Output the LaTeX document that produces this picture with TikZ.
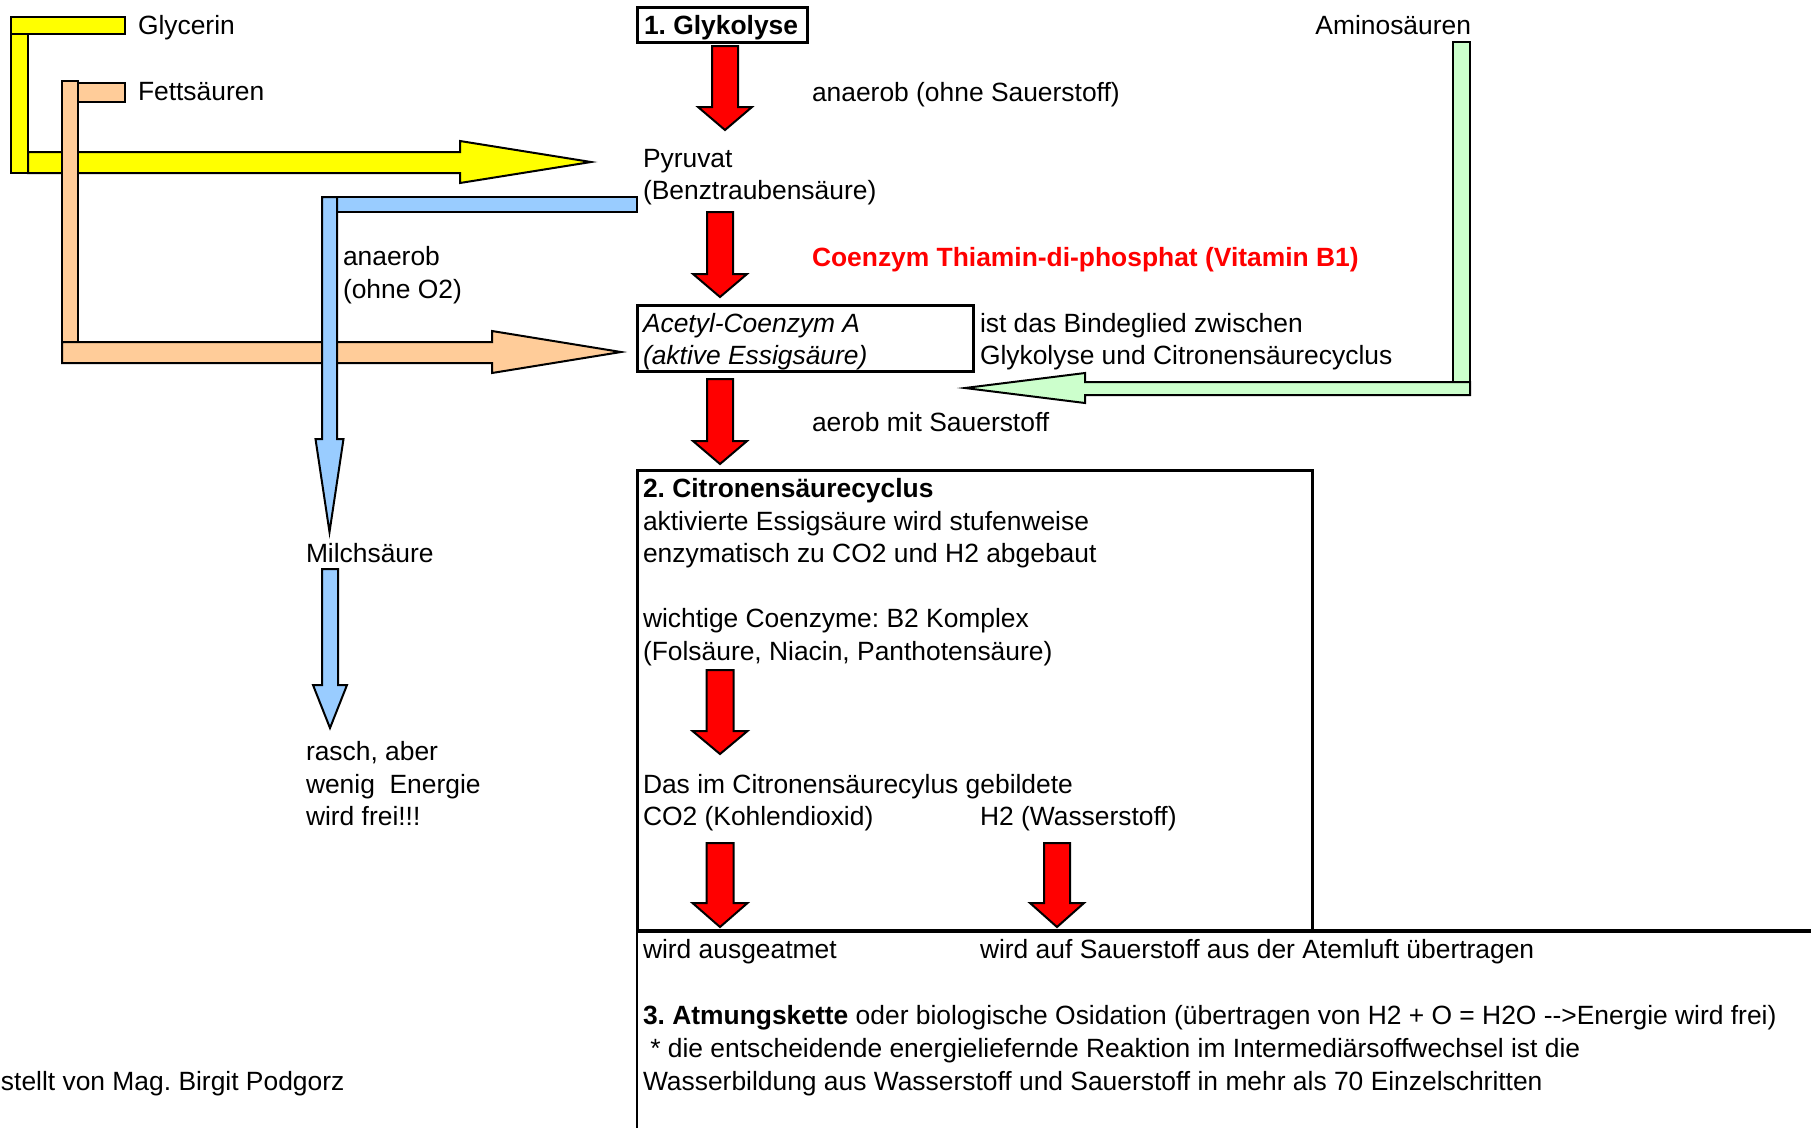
\documentclass[tikz,border=0pt]{standalone}
\usepackage{fontspec}
\setmainfont{Liberation Sans}
\usepackage{tikz}

\definecolor{glycyellow}{RGB}{255,255,0}
\definecolor{fattorange}{RGB}{255,204,153}
\definecolor{lacticblue}{RGB}{153,204,255}
\definecolor{aminogreen}{RGB}{204,255,204}
\definecolor{stepred}{RGB}{255,0,0}

\tikzset{
	% block arrow pointing down: length / half shaft / half head / head length / colour
	pics/downblock/.style args={#1/#2/#3/#4/#5}{code={
		\filldraw [fill=#5] (-#2,0) -- (#2,0) -- (#2,#1-#4) -- (#3,#1-#4) -- (0,#1)
			-- (-#3,#1-#4) -- (-#2,#1-#4) -- cycle;
	}},
}

\begin{document}
\begin{tikzpicture} [x=1pt, y=-1pt, line width=2pt, line join=miter,
	font=\fontsize{26.4}{32.5}\selectfont\frenchspacing,
	lbl/.style={anchor=base west, inner sep=0pt},
	frame/.style={draw, line width=3pt, anchor=north west, inner sep=0pt, outer sep=0pt}]
	% Help grid
	%	\draw [help lines, step=100] (0,0) grid (1811,1128);
	\useasboundingbox (0,0) rectangle (1811,1128);

	% Boxes
	\node (glykbox) [frame, minimum width=170, minimum height=35] at (637,7) {};
	\node (acetylbox) [frame, minimum width=336, minimum height=66] at (637,305) {};
	\node (citbox) [frame, minimum width=675, minimum height=461] at (637,470) {};
	\coordinate (rightend) at (1811,931);
	\coordinate (bottomend) at (637,1128);
	\draw [line width=4pt] (citbox.south west) -- (rightend);
	\draw [line width=2pt] (citbox.south west) -- (bottomend);

	% Glycerin => Pyruvat
	\filldraw [fill=glycyellow] (11,17) rectangle (125,34);
	\filldraw [fill=glycyellow] (11,34) rectangle (28,173);
	\filldraw [fill=glycyellow] (28,152) -- (460,152) -- (460,141) -- (591,162) -- (460,183)
		-- (460,173) -- (28,173) -- cycle;
	% Fettsaeuren => Acetyl-CoA
	\filldraw [fill=fattorange] (78,83) rectangle (125,102);
	\filldraw [fill=fattorange] (62,81) rectangle (78,342);
	\filldraw [fill=fattorange] (62,342) -- (492,342) -- (492,331) -- (621,352) -- (492,373)
		-- (492,363) -- (62,363) -- cycle;
	% Pyruvat => Milchsaeure
	\filldraw [fill=lacticblue] (337,197) rectangle (637,212);
	\pic at (329.5,197) {downblock=335/7.5/14/93/lacticblue};
	\pic at (330,569) {downblock=159/8/17/43/lacticblue};
	% Aminosaeuren => Acetyl-CoA
	\filldraw [fill=aminogreen] (1453,42) rectangle (1470,382);
	\filldraw [fill=aminogreen] (1470,382) -- (1085,382) -- (1085,373) -- (965,388) -- (1085,403)
		-- (1085,395) -- (1470,395) -- cycle;

	% main chain
	\pic at (725,46) {downblock=84/13/27/23/stepred};
	\pic at (720,212) {downblock=85/13/27/23/stepred};
	\pic at (720,379) {downblock=85/13/27/23/stepred};
	\pic at (720,670) {downblock=84/13.5/27.5/23/stepred};
	\pic at (720,843) {downblock=84/13.5/27.5/24/stepred};
	\pic at (1057,843) {downblock=84/13/27/24/stepred};

	% Texts
	\node (glycerin) [lbl] at (137,34) {Glycerin};
	\node (fett) [lbl] at (137,100) {Fettsäuren};
	\node (glyk) [lbl] at (643,34) {\bfseries 1. Glykolyse};
	\node (amino) [lbl, anchor=base east] at (1472,34) {Aminosäuren};
	\node (anaer) [lbl] at (811,101) {anaerob (ohne Sauerstoff)};
	\node (pyruvat) [lbl] at (642,167) {Pyruvat};
	\node (benz) [lbl] at (642,199) {(Benztraubensäure)};
	\node (anaerob) [lbl] at (342,265) {anaerob};
	\node (ohneo) [lbl] at (342,298) {(ohne O2)};
	\node (coenzym) [lbl, text=stepred] at (811,266) {\bfseries Coenzym Thiamin-di-phosphat (Vitamin B1)};
	\node (acetyl) [lbl] at (642,332) {\itshape Acetyl-Coenzym A};
	\node (aktiv) [lbl] at (642,364) {\itshape (aktive Essigsäure)};
	\node (binde) [lbl] at (979,332) {ist das Bindeglied zwischen};
	\node (binde2) [lbl] at (979,364) {Glykolyse und Citronensäurecyclus};
	\node (aerob) [lbl] at (811,431) {aerob mit Sauerstoff};

	\node (cit) [lbl] at (642,497) {\bfseries 2. Citronensäurecyclus};
	\node (cit1) [lbl] at (642,530) {aktivierte Essigsäure wird stufenweise};
	\node (cit2) [lbl] at (642,562) {enzymatisch zu CO2 und H2 abgebaut};
	\node (cit3) [lbl] at (642,627) {wichtige Coenzyme: B2 Komplex};
	\node (cit4) [lbl] at (642,660) {(Folsäure, Niacin, Panthotensäure)};
	\node (gebildet) [lbl] at (642,793) {Das im Citronensäurecylus gebildete};
	\node (coz) [lbl] at (642,825) {CO2 (Kohlendioxid)};
	\node (hz) [lbl] at (979,825) {H2 (Wasserstoff)};

	\node (milch) [lbl] at (305,562) {Milchsäure};
	\node (rasch) [lbl] at (305,760) {rasch, aber};
	\node (wenig) [lbl] at (305,793) {wenig\ \ Energie};
	\node (frei) [lbl] at (305,825) {wird frei!!!};

	\node (ausatmen) [lbl] at (642,958) {wird ausgeatmet};
	\node (uebertr) [lbl] at (979,958) {wird auf Sauerstoff aus der Atemluft übertragen};
	\node (atmung) [lbl] at (642,1024) {{\bfseries 3. Atmungskette} oder biologische Osidation (übertragen von H2 + O = H2O -{}->Energie wird frei)};
	\node (reaktion) [lbl] at (642,1057) {\ * die entscheidende energieliefernde Reaktion im Intermediärsoffwechsel ist die};
	\node (wasser) [lbl] at (642,1090) {Wasserbildung aus Wasserstoff und Sauerstoff in mehr als 70 Einzelschritten};
	\node (autor) [lbl] at (0,1090) {stellt von Mag. Birgit Podgorz};
\end{tikzpicture}
\end{document}
